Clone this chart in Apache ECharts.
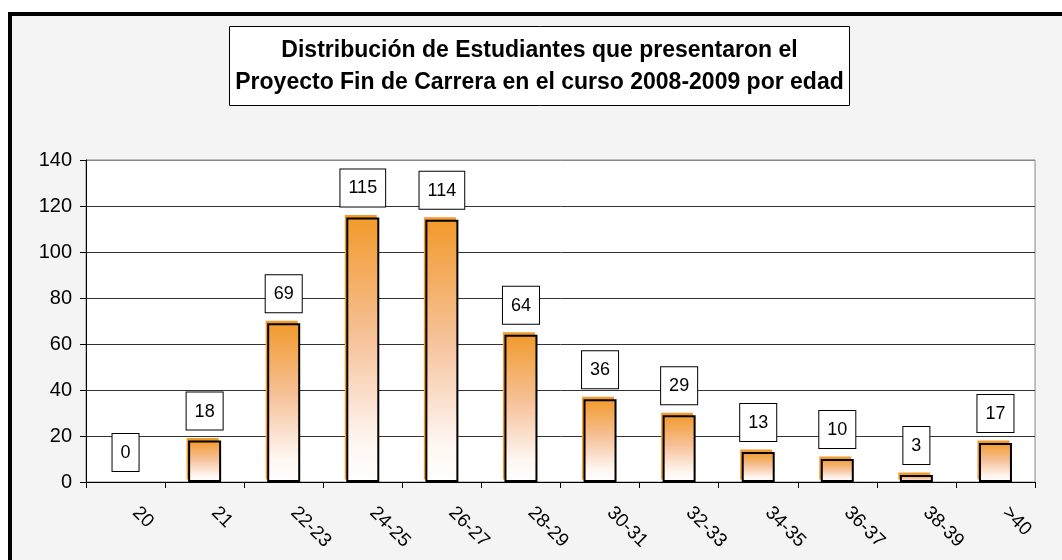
<!DOCTYPE html>
<html lang="es">
<head>
    <meta charset="UTF-8" />
    <title>Distribución por edad</title>
    <script src="https://cdn.jsdelivr.net/npm/echarts@6/dist/echarts.min.js"></script>
    <style>
        body { margin: 0; background: #fff; }
        #marco {
            position: absolute; left: 8px; top: 12px;
            width: 1100px; height: 600px;
            border: 4px solid #000; background: #f4f4f4;
        }
        #lienzo { position: absolute; left: 0; top: 0; width: 1062px; height: 560px; }
    </style>
</head>
<body>
    <div id="marco"></div>
    <div id="lienzo"></div>
    <script>
        // datos
        let edades = ['20', '21', '22-23', '24-25', '26-27', '28-29', '30-31', '32-33', '34-35', '36-37', '38-39', '>40'];
        let estudiantes = [0, 18, 69, 115, 114, 64, 36, 29, 13, 10, 3, 17];
        let ticksY = [0, 20, 40, 60, 80, 100, 120, 140];

        let myChart = echarts.init(document.getElementById('lienzo'));
        let fuente = '"Liberation Sans", Arial, sans-serif';
        let naranja = '#f29a2b';
        let anchoBarra = 33;

        // una barra con valor 0 no se dibuja
        let datosBarras = estudiantes.map((v) => v === 0
            ? { value: v, itemStyle: { borderWidth: 0, color: 'transparent' } }
            : v);

        myChart.setOption({
            backgroundColor: 'transparent',
            title: {
                text: '{t|Distribución de Estudiantes que presentaron el}\n{t|Proyecto Fin de Carrera en el curso 2008-2009 por edad}',
                left: 229,
                top: 26,
                padding: [9, 4, 7, 4],
                backgroundColor: '#fff',
                borderColor: '#000',
                borderWidth: 1,
                textStyle: {
                    rich: {
                        t: {
                            fontFamily: fuente,
                            fontSize: 23,
                            fontWeight: 'bold',
                            color: '#000',
                            lineHeight: 32,
                            height: 32,
                            width: 613,
                            align: 'center'
                        }
                    }
                }
            },
            grid: {
                left: 86,
                right: 27,
                top: 160,
                bottom: 78,
                show: true,
                backgroundColor: '#fff',
                borderColor: '#888',
                borderWidth: 1
            },
            xAxis: {
                type: 'category',
                data: edades,
                axisLine: { lineStyle: { color: '#000', width: 1 } },
                axisTick: { show: true, length: 6, lineStyle: { color: '#000' } },
                axisLabel: {
                    interval: 0,
                    rotate: -45,
                    margin: 18,
                    padding: [0, 0, 0, 14],
                    fontFamily: fuente,
                    fontSize: 19,
                    color: '#000'
                }
            },
            yAxis: {
                type: 'value',
                min: ticksY[0],
                max: ticksY[ticksY.length - 1],
                interval: 20,
                axisLine: { show: true, lineStyle: { color: '#000', width: 1 } },
                axisTick: { show: true, length: 6, lineStyle: { color: '#000' } },
                axisLabel: {
                    margin: 14,
                    fontFamily: fuente,
                    fontSize: 20,
                    color: '#000'
                },
                splitLine: {
                    lineStyle: {
                        color: ['#333', '#333', '#333', '#333', '#333', '#333', '#333', '#888'],
                        width: 1
                    }
                }
            },
            series: [
                {
                    // borde naranja desplazado detras de cada barra
                    name: 'borde',
                    type: 'custom',
                    z: 1,
                    silent: true,
                    data: estudiantes.map((v, i) => [i, v]),
                    encode: { x: 0, y: 1 },
                    renderItem: (params, api) => {
                        let v = api.value(1);
                        if (!v) return;
                        let arriba = api.coord([api.value(0), v]);
                        let base = api.coord([api.value(0), 0]);
                        return {
                            type: 'rect',
                            shape: {
                                x: arriba[0] - anchoBarra / 2 - 1.5,
                                y: arriba[1] - 2.5,
                                width: anchoBarra - 1,
                                height: base[1] - arriba[1]
                            },
                            style: { fill: naranja }
                        };
                    }
                },
                {
                    name: 'Estudiantes',
                    type: 'bar',
                    z: 2,
                    data: datosBarras,
                    barWidth: anchoBarra,
                    itemStyle: {
                        color: new echarts.graphic.LinearGradient(0, 0, 0, 1, [
                            { offset: 0, color: naranja },
                            { offset: 0.45, color: '#f6c198' },
                            { offset: 0.85, color: '#fef6f1' },
                            { offset: 1, color: '#ffffff' }
                        ]),
                        borderColor: '#000',
                        borderWidth: 2
                    },
                    label: {
                        show: true,
                        position: 'top',
                        distance: 11,
                        fontFamily: fuente,
                        fontSize: 18,
                        color: '#000',
                        backgroundColor: '#fff',
                        borderColor: '#000',
                        borderWidth: 1,
                        padding: [10, 8, 9, 8]
                    }
                }
            ]
        });
    </script>
</body>
</html>
